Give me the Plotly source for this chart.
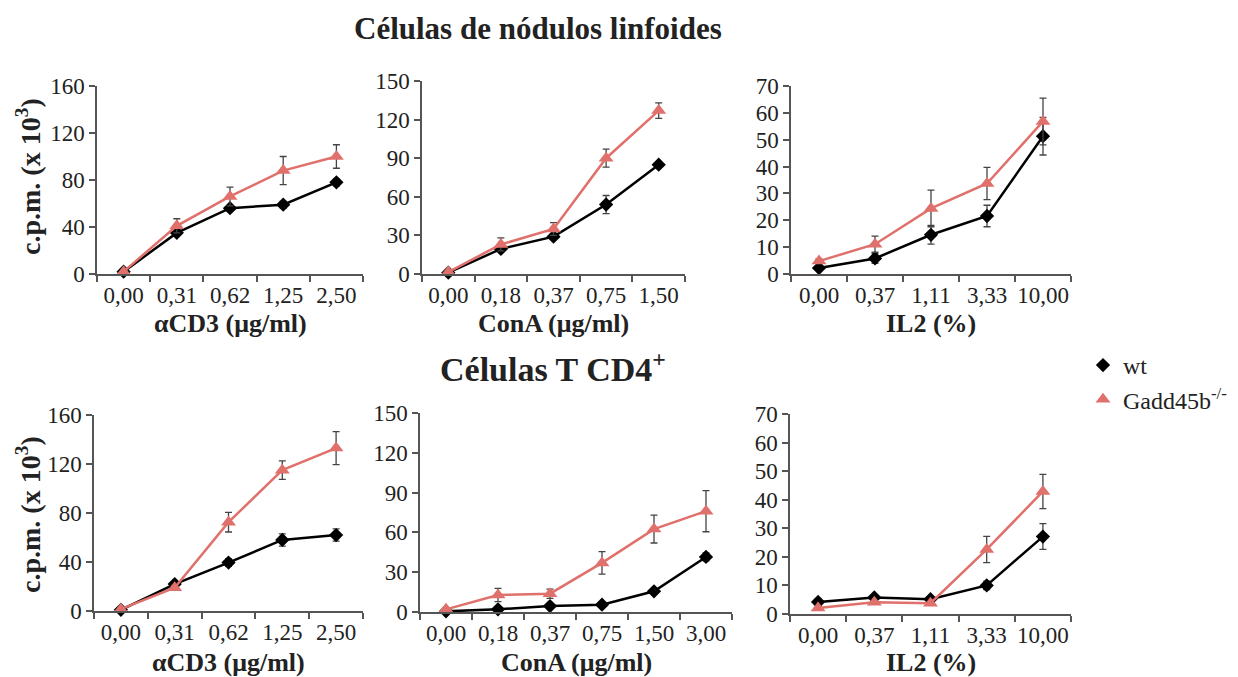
import plotly.graph_objects as go

W, H = 1238, 677
OFF = 8  # page body margin of the browser
FW, FH = W - OFF, H - OFF
FONT = "Liberation Serif, Times New Roman, serif"
RED = "#E0706B"
BLACK = "#000000"
AXIS = "#555555"
TXT = "#222222"

# ---- data ----
acd3_cats = ["0,00", "0,31", "0,62", "1,25", "2,50"]
cona_cats_top = ["0,00", "0,18", "0,37", "0,75", "1,50"]
cona_cats_bot = ["0,00", "0,18", "0,37", "0,75", "1,50", "3,00"]
il2_cats = ["0,00", "0,37", "1,11", "3,33", "10,00"]

# Top row: lymph node cells
ln_acd3_wt = [2, 35, 56, 59, 78]
ln_acd3_wt_err = [1, 2, 2, 3, 3]
ln_acd3_ko = [2, 41, 66, 88, 100]
ln_acd3_ko_err = [1, 6, 8, 12, 10]

ln_cona_wt = [1, 19.5, 29, 54, 85]
ln_cona_wt_err = [1, 2, 2, 7, 2]
ln_cona_ko = [1.5, 23, 35, 90, 127]
ln_cona_ko_err = [1, 5, 5, 7, 6]

ln_il2_wt = [2.2, 5.8, 14.6, 21.6, 51.3]
ln_il2_wt_err = [0.8, 1.8, 3.5, 4, 7]
ln_il2_ko = [4.8, 11.1, 24.4, 33.7, 56.8]
ln_il2_ko_err = [0.8, 3, 6.8, 6, 8.7]

# Bottom row: CD4+ T cells
t_acd3_wt = [1, 22, 39.5, 58, 62]
t_acd3_wt_err = [1, 2, 3, 5, 5]
t_acd3_ko = [1.5, 19, 72.5, 115, 133]
t_acd3_ko_err = [1, 2, 8, 7.5, 13.5]

t_cona_wt = [0.5, 2, 4.5, 5.5, 15.6, 41.5]
t_cona_wt_err = [0.5, 1, 1, 1, 2, 3]
t_cona_ko = [2, 12.8, 13.8, 37, 62.5, 76]
t_cona_ko_err = [1, 5, 3.5, 8.5, 10.5, 15.5]

t_il2_wt = [4.2, 5.8, 5.2, 10, 27.1]
t_il2_wt_err = [1, 1, 1, 1.5, 4.5]
t_il2_ko = [2.1, 4.1, 3.8, 22.6, 42.9]
t_il2_ko_err = [0.5, 0.5, 0.5, 4.6, 6]

x_titles = ["αCD3 (μg/ml)", "ConA (μg/ml)", "IL2 (%)"]
y_title = "c.p.m. (x 10<sup>3</sup>)"
title_top = "Células de nódulos linfoides"
title_bot = "Células T CD4<sup>+</sup>"
legend_names = ["wt", "Gadd45b<sup>-/-</sup>"]


def px(x):
    return (x - OFF) / FW


def py(y):
    return 1 - (y - OFF) / FH


panels = [
    (acd3_cats, ln_acd3_wt, ln_acd3_wt_err, ln_acd3_ko, ln_acd3_ko_err, 160, 40, (97, 363), (86, 274)),
    (cona_cats_top, ln_cona_wt, ln_cona_wt_err, ln_cona_ko, ln_cona_ko_err, 150, 30, (422, 685), (81, 274)),
    (il2_cats, ln_il2_wt, ln_il2_wt_err, ln_il2_ko, ln_il2_ko_err, 70, 10, (791, 1071), (86, 274)),
    (acd3_cats, t_acd3_wt, t_acd3_wt_err, t_acd3_ko, t_acd3_ko_err, 160, 40, (94, 363), (415, 611)),
    (cona_cats_bot, t_cona_wt, t_cona_wt_err, t_cona_ko, t_cona_ko_err, 150, 30, (420, 732), (413, 612)),
    (il2_cats, t_il2_wt, t_il2_wt_err, t_il2_ko, t_il2_ko_err, 70, 10, (790, 1071), (414, 614)),
]

fig = go.Figure()
layout = dict(
    width=FW, height=FH,
    margin=dict(l=0, r=0, t=0, b=0, pad=0, autoexpand=False),
    paper_bgcolor="white", plot_bgcolor="white",
    font=dict(family=FONT, size=23, color=TXT),
    showlegend=True,
    legend=dict(x=px(1083), y=py(343), xanchor="left", yanchor="top",
                font=dict(family=FONT, size=24, color=TXT),
                bgcolor="rgba(0,0,0,0)", itemwidth=30, tracegroupgap=2),
)
annotations = []

for i, (cats, wt, wte, ko, koe, ymax, dtick, (x0, x1), (yt, yb)) in enumerate(panels):
    n = i + 1
    xa = "x" if n == 1 else f"x{n}"
    ya = "y" if n == 1 else f"y{n}"
    fig.add_trace(go.Scatter(
        x=cats, y=wt, mode="lines+markers", xaxis=xa, yaxis=ya, showlegend=False,
        line=dict(color=BLACK, width=2.5),
        marker=dict(symbol="diamond", size=11, color=BLACK),
        error_y=dict(type="data", array=wte, color="#444444", thickness=1.3, width=3.5),
        cliponaxis=False,
    ))
    fig.add_trace(go.Scatter(
        x=cats, y=ko, mode="lines+markers", xaxis=xa, yaxis=ya, showlegend=False,
        line=dict(color=RED, width=2.5),
        marker=dict(symbol="triangle-up", size=13, color=RED),
        error_y=dict(type="data", array=koe, color="#444444", thickness=1.3, width=3.5),
        cliponaxis=False,
    ))
    xkey = "xaxis" if n == 1 else f"xaxis{n}"
    ykey = "yaxis" if n == 1 else f"yaxis{n}"
    layout[xkey] = dict(
        domain=[px(x0), px(x1)], anchor=ya, type="category",
        range=[-0.5, len(cats) - 0.5], tickson="boundaries", tickangle=0,
        ticks="outside", ticklen=6, tickcolor=AXIS, tickwidth=1.5,
        showline=True, linecolor=AXIS, linewidth=1.5, showgrid=False, zeroline=False,
        tickfont=dict(family=FONT, size=23, color=TXT), fixedrange=True,
    )
    layout[ykey] = dict(
        domain=[py(yb), py(yt)], anchor=xa,
        range=[0, ymax], dtick=dtick, tick0=0,
        ticks="outside", ticklen=6, tickcolor=AXIS, tickwidth=1.5,
        showline=True, linecolor=AXIS, linewidth=1.5, showgrid=False, zeroline=False,
        tickfont=dict(family=FONT, size=23, color=TXT), fixedrange=True,
    )
    row_bottom = 323 if n <= 3 else 662
    annotations.append(dict(
        text=f"<b>{x_titles[(n - 1) % 3]}</b>", x=px((x0 + x1) / 2), y=py(row_bottom),
        xref="paper", yref="paper", showarrow=False, xanchor="center", yanchor="middle",
        font=dict(family=FONT, size=26, color=TXT),
    ))

# legend-only entries
fig.add_trace(go.Scatter(x=[None], y=[None], mode="markers", name=legend_names[0],
                         marker=dict(symbol="diamond", size=11, color=BLACK), showlegend=True))
fig.add_trace(go.Scatter(x=[None], y=[None], mode="markers", name=legend_names[1],
                         marker=dict(symbol="triangle-up", size=13, color=RED), showlegend=True))

for yc in (177, 515):
    annotations.append(dict(
        text=f"<b>{y_title}</b>", x=px(28), y=py(yc), xref="paper", yref="paper",
        showarrow=False, textangle=-90, xanchor="center", yanchor="middle",
        font=dict(family=FONT, size=28, color=TXT),
    ))

annotations.append(dict(text=f"<b>{title_top}</b>", x=px(538), y=py(28), xref="paper", yref="paper",
                        showarrow=False, xanchor="center", yanchor="middle",
                        font=dict(family=FONT, size=31, color=TXT)))
annotations.append(dict(text=f"<b>{title_bot}</b>", x=px(553), y=py(367), xref="paper", yref="paper",
                        showarrow=False, xanchor="center", yanchor="middle",
                        font=dict(family=FONT, size=34, color=TXT)))

layout["annotations"] = annotations
fig.update_layout(**layout)
fig.write_html("out.html")
